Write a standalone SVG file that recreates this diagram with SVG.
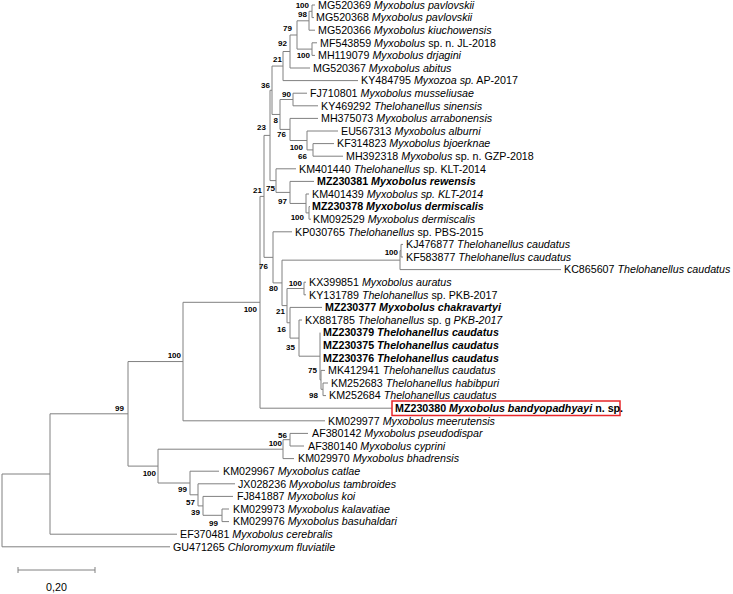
<svg xmlns="http://www.w3.org/2000/svg" width="733" height="594" viewBox="0 0 733 594">
<style>
.t{font-family:"Liberation Sans",Arial,sans-serif;font-size:10.7px;fill:#000}
.i{font-style:italic}
.b{font-weight:bold}
.bs{font-family:"Liberation Sans",Arial,sans-serif;font-size:8px;font-weight:bold;fill:#000;text-anchor:end}
.ln{fill:none;stroke:#808080;stroke-width:1}
</style>
<rect width="733" height="594" fill="#fff"/>
<g id="connectors" class="ln">
<path d="M2,474V546.8M2,474H50M2,546.8H170"/>
<path d="M50,413.8V534.2M50,413.8H128M50,534.2H177"/>
<path d="M128,361.55V466.1M128,361.55H183M128,466.1H158"/>
<path d="M183,302.3V420.8M183,302.3H260M183,420.8H325"/>
<path d="M260,196.4V408.2M260,196.4H264M260,408.2H392"/>
<path d="M264,135.4V257.35M264,135.4H270M264,257.35H273"/>
<path d="M270,90.25V180.6M270,90.25H272M270,180.6H276"/>
<path d="M272,66.05V114.45M272,66.05H283M272,114.45H280"/>
<path d="M283,51.5V80.6M283,51.5H290M283,80.6H358"/>
<path d="M290,35V68M290,35H297M290,68H310"/>
<path d="M297,20.8V49.1M297,20.8H309M297,49.1H312"/>
<path d="M309,11.3V30.2M309,11.3H312M309,30.2H315"/>
<path d="M312,5V17.6M312,5H315M312,17.6H314"/>
<path d="M312,42.8V55.4M312,42.8H317M312,55.4H315"/>
<path d="M280,99.5V129.4M280,99.5H293M280,129.4H290"/>
<path d="M293,93.2V105.8M293,93.2H307M293,105.8H318"/>
<path d="M290,118.4V140.5M290,118.4H318M290,140.5H307"/>
<path d="M307,131V149.9M307,131H338M307,149.9H313"/>
<path d="M313,143.6V156.2M313,143.6H334M313,156.2H343"/>
<path d="M276,168.8V192.4M276,168.8H296M276,192.4H290"/>
<path d="M290,181.4V203.45M290,181.4H314M290,203.45H306"/>
<path d="M306,194V212.9M306,194H309M306,212.9H309"/>
<path d="M309,206.6V219.2M309,206.6H310M309,219.2H311"/>
<path d="M273,231.8V282.9M273,231.8H292M273,282.9H282"/>
<path d="M282,260.15V305.6M282,260.15H400M282,305.6H287"/>
<path d="M400,250.7V269.6M400,250.7H401M400,269.6H561"/>
<path d="M401,244.4V257M401,244.4H403M401,257H403"/>
<path d="M287,288.5V322.75M287,288.5H304M287,322.75H290"/>
<path d="M304,282.2V294.8M304,282.2H306M304,294.8H306"/>
<path d="M290,307.4V338.1M290,307.4H322M290,338.1H299"/>
<path d="M299,320V356.2M299,320H302M299,356.2H320"/>
<path d="M320,332.6V379.85M320,379.85H321"/>
<path d="M321,370.4V389.3M321,370.4H325M321,389.3H323"/>
<path d="M323,383V395.6M323,383H328M323,395.6H326"/>
<path d="M158,449.2V483M158,449.2H283M158,483H190"/>
<path d="M283,439.7V458.6M283,439.7H290M283,458.6H294"/>
<path d="M290,433.4V446M290,433.4H308M290,446H304"/>
<path d="M190,471.2V494.8M190,471.2H219M190,494.8H198"/>
<path d="M198,483.8V505.9M198,483.8H235M198,505.9H203"/>
<path d="M203,496.4V515.3M203,496.4H233M203,515.3H222"/>
<path d="M222,509V521.6M222,509H229M222,521.6H229"/>
</g>
<g id="leaf-MG520369"><text class="t" x="318" y="8.8">MG520369 <tspan class="i">Myxobolus pavlovskii</tspan></text></g>
<g id="leaf-MG520368"><text class="t" x="316" y="21.4">MG520368 <tspan class="i">Myxobolus pavlovskii</tspan></text></g>
<g id="leaf-MG520366"><text class="t" x="318" y="34">MG520366 <tspan class="i">Myxobolus kiuchowensis</tspan></text></g>
<g id="leaf-MF543859"><text class="t" x="320" y="46.6">MF543859 <tspan class="i">Myxobolus</tspan> sp. n. JL-2018</text></g>
<g id="leaf-MH119079"><text class="t" x="318" y="59.2">MH119079 <tspan class="i">Myxobolus drjagini</tspan></text></g>
<g id="leaf-MG520367"><text class="t" x="313" y="71.8">MG520367 <tspan class="i">Myxobolus abitus</tspan></text></g>
<g id="leaf-KY484795"><text class="t" x="361" y="84.4">KY484795 <tspan class="i">Myxozoa sp.</tspan> AP-2017</text></g>
<g id="leaf-FJ710801"><text class="t" x="310" y="97">FJ710801 <tspan class="i">Myxobolus musseliusae</tspan></text></g>
<g id="leaf-KY469292"><text class="t" x="321" y="109.6">KY469292 <tspan class="i">Thelohanellus sinensis</tspan></text></g>
<g id="leaf-MH375073"><text class="t" x="321" y="122.2">MH375073 <tspan class="i">Myxobolus arrabonensis</tspan></text></g>
<g id="leaf-EU567313"><text class="t" x="341" y="134.8">EU567313 <tspan class="i">Myxobolus alburni</tspan></text></g>
<g id="leaf-KF314823"><text class="t" x="337" y="147.4">KF314823 <tspan class="i">Myxobolus bjoerknae</tspan></text></g>
<g id="leaf-MH392318"><text class="t" x="346" y="160">MH392318 <tspan class="i">Myxobolus</tspan> sp. n. GZP-2018</text></g>
<g id="leaf-KM401440"><text class="t" x="299" y="172.6">KM401440 <tspan class="i">Thelohanellus</tspan> sp. KLT-2014</text></g>
<g id="leaf-MZ230381"><text class="t b" x="317" y="185.2">MZ230381 <tspan class="i">Myxobolus rewensis</tspan></text></g>
<g id="leaf-KM401439"><text class="t" x="312" y="197.8">KM401439 <tspan class="i">Myxobolus sp. KLT-2014</tspan></text></g>
<g id="leaf-MZ230378"><text class="t b" x="312" y="210.4">MZ230378 <tspan class="i">Myxobolus dermiscalis</tspan></text></g>
<g id="leaf-KM092529"><text class="t" x="313" y="223">KM092529 <tspan class="i">Myxobolus dermiscalis</tspan></text></g>
<g id="leaf-KP030765"><text class="t" x="295" y="235.6">KP030765 <tspan class="i">Thelohanellus</tspan> sp. PBS-2015</text></g>
<g id="leaf-KJ476877"><text class="t" x="406" y="248.2">KJ476877 <tspan class="i">Thelohanellus caudatus</tspan></text></g>
<g id="leaf-KF583877"><text class="t" x="406" y="260.8">KF583877 <tspan class="i">Thelohanellus caudatus</tspan></text></g>
<g id="leaf-KC865607"><text class="t" x="564" y="273.4">KC865607 <tspan class="i">Thelohanellus caudatus</tspan></text></g>
<g id="leaf-KX399851"><text class="t" x="309" y="286">KX399851 <tspan class="i">Myxobolus auratus</tspan></text></g>
<g id="leaf-KY131789"><text class="t" x="309" y="298.6">KY131789 <tspan class="i">Thelohanellus</tspan> sp. PKB-2017</text></g>
<g id="leaf-MZ230377"><text class="t b" x="325" y="311.2">MZ230377 <tspan class="i">Myxobolus chakravartyi</tspan></text></g>
<g id="leaf-KX881785"><text class="t" x="305" y="323.8">KX881785 <tspan class="i">Thelohanellus</tspan> sp. g <tspan class="i">PKB-2017</tspan></text></g>
<g id="leaf-MZ230379"><text class="t b" x="323" y="336.4">MZ230379 <tspan class="i">Thelohanellus caudatus</tspan></text></g>
<g id="leaf-MZ230375"><text class="t b" x="323" y="349">MZ230375 <tspan class="i">Thelohanellus caudatus</tspan></text></g>
<g id="leaf-MZ230376"><text class="t b" x="323" y="361.6">MZ230376 <tspan class="i">Thelohanellus caudatus</tspan></text></g>
<g id="leaf-MK412941"><text class="t" x="328" y="374.2">MK412941 <tspan class="i">Thelohanellus caudatus</tspan></text></g>
<g id="leaf-KM252683"><text class="t" x="331" y="386.8">KM252683 <tspan class="i">Thelohanellus habibpuri</tspan></text></g>
<g id="leaf-KM252684"><text class="t" x="329" y="399.4">KM252684 <tspan class="i">Thelohanellus caudatus</tspan></text></g>
<g id="leaf-MZ230380"><rect x="392" y="401" width="228" height="14.5" fill="none" stroke="#e8262a" stroke-width="1.5"/><text class="t b" x="395" y="412">MZ230380 <tspan class="i">Myxobolus bandyopadhyayi</tspan> n. sp.</text></g>
<g id="leaf-KM029977"><text class="t" x="328" y="424.6">KM029977 <tspan class="i">Myxobolus meerutensis</tspan></text></g>
<g id="leaf-AF380142"><text class="t" x="312" y="437.2">AF380142 <tspan class="i">Myxobolus pseudodispar</tspan></text></g>
<g id="leaf-AF380140"><text class="t" x="308" y="449.8">AF380140 <tspan class="i">Myxobolus cyprini</tspan></text></g>
<g id="leaf-KM029970"><text class="t" x="298" y="462.4">KM029970 <tspan class="i">Myxobolus bhadrensis</tspan></text></g>
<g id="leaf-KM029967"><text class="t" x="223" y="475">KM029967 <tspan class="i">Myxobolus catlae</tspan></text></g>
<g id="leaf-JX028236"><text class="t" x="238" y="487.6">JX028236 <tspan class="i">Myxobolus tambroides</tspan></text></g>
<g id="leaf-FJ841887"><text class="t" x="237" y="500.2">FJ841887 <tspan class="i">Myxobolus koi</tspan></text></g>
<g id="leaf-KM029973"><text class="t" x="233" y="512.8">KM029973 <tspan class="i">Myxobolus kalavatiae</tspan></text></g>
<g id="leaf-KM029976"><text class="t" x="233" y="525.4">KM029976 <tspan class="i">Myxobolus basuhaldari</tspan></text></g>
<g id="leaf-EF370481"><text class="t" x="180" y="538">EF370481 <tspan class="i">Myxobolus cerebralis</tspan></text></g>
<g id="leaf-GU471265"><text class="t" x="173" y="550.6">GU471265 <tspan class="i">Chloromyxum fluviatile</tspan></text></g>
<g id="bootstrap">
<g id="bs-n1"><text class="bs" x="309" y="8">100</text></g>
<g id="bs-n2"><text class="bs" x="307" y="17">98</text></g>
<g id="bs-n3"><text class="bs" x="292" y="31">79</text></g>
<g id="bs-n4"><text class="bs" x="310" y="58">100</text></g>
<g id="bs-n5"><text class="bs" x="287" y="46">92</text></g>
<g id="bs-n6"><text class="bs" x="282" y="62">21</text></g>
<g id="bs-n7"><text class="bs" x="270" y="88">36</text></g>
<g id="bs-n9"><text class="bs" x="291" y="97">90</text></g>
<g id="bs-n10"><text class="bs" x="278" y="123">8</text></g>
<g id="bs-n11"><text class="bs" x="286" y="137">76</text></g>
<g id="bs-n12"><text class="bs" x="303" y="150">100</text></g>
<g id="bs-n13"><text class="bs" x="307" y="159">66</text></g>
<g id="bs-n14"><text class="bs" x="266" y="130">23</text></g>
<g id="bs-g"><text class="bs" x="262" y="193">21</text></g>
<g id="bs-n15"><text class="bs" x="275" y="191">75</text></g>
<g id="bs-n16"><text class="bs" x="287" y="204">97</text></g>
<g id="bs-n17a"><text class="bs" x="304" y="220">100</text></g>
<g id="bs-n20"><text class="bs" x="268" y="269">76</text></g>
<g id="bs-n21"><text class="bs" x="278" y="291">80</text></g>
<g id="bs-n22a"><text class="bs" x="398" y="255">100</text></g>
<g id="bs-ny"><text class="bs" x="302" y="286">100</text></g>
<g id="bs-n23"><text class="bs" x="285" y="314">21</text></g>
<g id="bs-nx"><text class="bs" x="286" y="332">16</text></g>
<g id="bs-nw"><text class="bs" x="295" y="350">35</text></g>
<g id="bs-nu"><text class="bs" x="317" y="373">75</text></g>
<g id="bs-nv"><text class="bs" x="318" y="398">98</text></g>
<g id="bs-nf"><text class="bs" x="257" y="312">100</text></g>
<g id="bs-nc"><text class="bs" x="181" y="358">100</text></g>
<g id="bs-af"><text class="bs" x="287" y="438">56</text></g>
<g id="bs-h"><text class="bs" x="282" y="446">100</text></g>
<g id="bs-b"><text class="bs" x="124" y="411">99</text></g>
<g id="bs-d"><text class="bs" x="156" y="476">100</text></g>
<g id="bs-i"><text class="bs" x="187" y="492">99</text></g>
<g id="bs-j"><text class="bs" x="195" y="505">57</text></g>
<g id="bs-k"><text class="bs" x="200" y="515">39</text></g>
<g id="bs-l"><text class="bs" x="218" y="526">99</text></g>
</g>
<g id="scalebar">
<path class="ln" d="M18,570H95M18,567V573M95,567V573"/>
<text class="t" x="56.5" y="591" font-size="8" text-anchor="middle">0,20</text>
</g>
</svg>
